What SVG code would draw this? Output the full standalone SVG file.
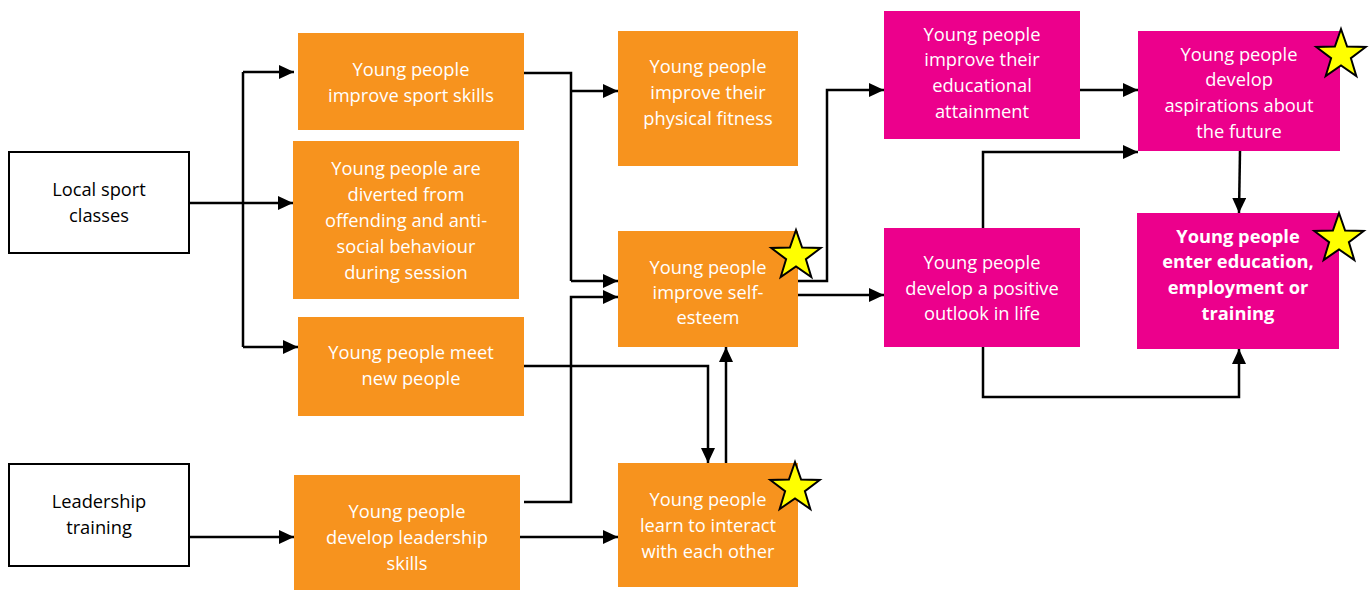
<svg xmlns="http://www.w3.org/2000/svg" width="1370" height="591" viewBox="0 0 1370 591">
  <style>
    .in { fill: #ffffff; stroke: #000000; stroke-width: 2; }
    .or { fill: #F7931E; }
    .mg { fill: #EC008C; }
    text { font-family: "Open Sans", "Liberation Sans", sans-serif; font-size: 18.3px; text-anchor: middle; fill: #ffffff; }
    text.dark { fill: #000000; }
    text.b { font-weight: bold; }
    .ln { fill: none; stroke: #000000; stroke-width: 2.5; marker-end: url(#ah); }
    .ln0 { fill: none; stroke: #000000; stroke-width: 2.5; }
    .star { fill: #FFFF00; stroke: #000000; stroke-width: 2; stroke-linejoin: miter; }
  </style>
  <defs>
    <marker id="ah" markerUnits="userSpaceOnUse" markerWidth="15" markerHeight="14" refX="15" refY="7" orient="auto">
      <path d="M0,0 L15,7 L0,14 z" fill="#000000"/>
    </marker>
    <!-- five-point star, outer radius 26 -->
    <polygon id="st" points="0,-26 6.1,-8.4 24.7,-8 9.9,3.2 15.3,21 0,10.4 -15.3,21 -9.9,3.2 -24.7,-8 -6.1,-8.4"/>
  </defs>

  <g id="connectors">
    <!-- local sport classes fan-out -->
    <path class="ln0" d="M189,203 H243"/>
    <path class="ln0" d="M243,72 V347"/>
    <path class="ln" d="M243,72 H294"/>
    <path class="ln" d="M243,203 H293"/>
    <path class="ln" d="M243,347 H298"/>
    <!-- sport skills -->
    <path class="ln0" d="M524,73 H571 V281"/>
    <path class="ln" d="M571,91 H618"/>
    <path class="ln" d="M571,281 H618"/>
    <!-- leadership skills to self-esteem -->
    <path class="ln" d="M524,502 H571 V297 H618"/>
    <!-- meet new people to interact -->
    <path class="ln" d="M524,366 H708 V463"/>
    <!-- interact to self-esteem -->
    <path class="ln" d="M726,463 V347"/>
    <!-- leadership training / skills -->
    <path class="ln" d="M189,537 H294"/>
    <path class="ln" d="M520,537 H618"/>
    <!-- self-esteem outputs -->
    <path class="ln" d="M798,281 H827 V90 H884"/>
    <path class="ln" d="M798,295 H884"/>
    <!-- outcomes -->
    <path class="ln" d="M1080,90 H1138"/>
    <path class="ln" d="M983,228 V152 H1138"/>
    <path class="ln" d="M1240,151 L1239,213"/>
    <path class="ln" d="M983,347 V397 H1239 V349"/>
  </g>

  <g id="n-local">
    <rect class="in" x="9" y="152" width="180" height="101"/>
    <text class="dark" x="99" y="196">Local sport</text>
    <text class="dark" x="99" y="222">classes</text>
  </g>
  <g id="n-leadtrain">
    <rect class="in" x="9" y="464" width="180" height="102"/>
    <text class="dark" x="99" y="508">Leadership</text>
    <text class="dark" x="99" y="534">training</text>
  </g>

  <g id="n-sport">
    <rect class="or" x="298" y="33" width="226" height="97"/>
    <text x="411" y="76">Young people</text>
    <text x="411" y="102">improve sport skills</text>
  </g>
  <g id="n-diverted">
    <rect class="or" x="293" y="141" width="226" height="158"/>
    <text x="406" y="175">Young people are</text>
    <text x="406" y="201">diverted from</text>
    <text x="406" y="227">offending and anti-</text>
    <text x="406" y="253">social behaviour</text>
    <text x="406" y="279">during session</text>
  </g>
  <g id="n-meet">
    <rect class="or" x="298" y="317" width="226" height="99"/>
    <text x="411" y="359">Young people meet</text>
    <text x="411" y="385">new people</text>
  </g>
  <g id="n-leadskills">
    <rect class="or" x="294" y="475" width="226" height="115"/>
    <text x="407" y="518">Young people</text>
    <text x="407" y="544">develop leadership</text>
    <text x="407" y="570">skills</text>
  </g>

  <g id="n-fitness">
    <rect class="or" x="618" y="31" width="180" height="135"/>
    <text x="708" y="73">Young people</text>
    <text x="708" y="99">improve their</text>
    <text x="708" y="125">physical fitness</text>
  </g>
  <g id="n-esteem">
    <rect class="or" x="618" y="231" width="180" height="116"/>
    <text x="708" y="274">Young people</text>
    <text x="708" y="299">improve self-</text>
    <text x="708" y="324">esteem</text>
    <use href="#st" class="star" x="796" y="256"/>
  </g>
  <g id="n-interact">
    <rect class="or" x="618" y="463" width="180" height="124"/>
    <text x="708" y="506">Young people</text>
    <text x="708" y="532">learn to interact</text>
    <text x="708" y="558">with each other</text>
    <use href="#st" class="star" x="795" y="488"/>
  </g>

  <g id="n-educ">
    <rect class="mg" x="884" y="11" width="196" height="128"/>
    <text x="982" y="41">Young people</text>
    <text x="982" y="66">improve their</text>
    <text x="982" y="92">educational</text>
    <text x="982" y="118">attainment</text>
  </g>
  <g id="n-outlook">
    <rect class="mg" x="884" y="228" width="196" height="119"/>
    <text x="982" y="269">Young people</text>
    <text x="982" y="295">develop a positive</text>
    <text x="982" y="320">outlook in life</text>
  </g>
  <g id="n-aspire">
    <rect class="mg" x="1138" y="31" width="202" height="120"/>
    <text x="1239" y="61">Young people</text>
    <text x="1239" y="86">develop</text>
    <text x="1239" y="112">aspirations about</text>
    <text x="1239" y="138">the future</text>
    <use href="#st" class="star" x="1341" y="55"/>
  </g>
  <g id="n-eet">
    <rect class="mg" x="1137" y="213" width="202" height="136"/>
    <text class="b" x="1238" y="243">Young people</text>
    <text class="b" x="1238" y="268">enter education,</text>
    <text class="b" x="1238" y="294">employment or</text>
    <text class="b" x="1238" y="320">training</text>
    <use href="#st" class="star" x="1339" y="239"/>
  </g>
</svg>
